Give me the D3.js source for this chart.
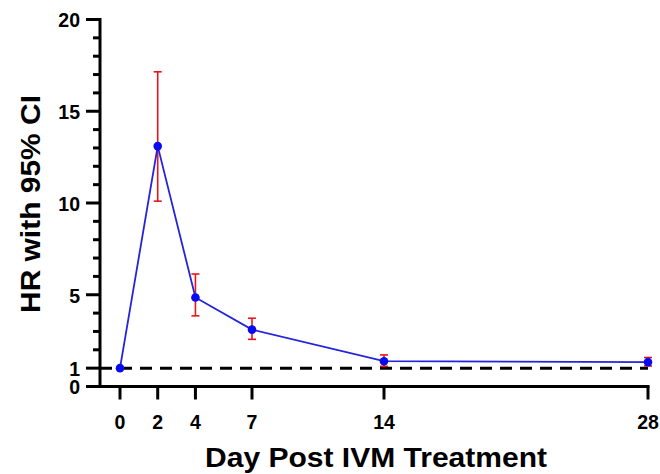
<!DOCTYPE html>
<html>
<head>
<meta charset="utf-8">
<script src="https://cdn.jsdelivr.net/npm/d3@7"></script>
<style>
  body { margin: 0; background: #fff; }
  text { font-family: "Liberation Sans", Arial, sans-serif; font-weight: bold; }
</style>
</head>
<body>
<div id="chart"></div>
<script>
// days post treatment and hazard ratios with 95% CI
let days = [0, 2, 4, 7, 14, 28];
let hr = [1.0, 13.1, 4.85, 3.1, 1.38, 1.33];
let ciLow = [1.0, 10.1, 3.85, 2.57, 1.1, 1.12];
let ciHigh = [1.0, 17.15, 6.13, 3.72, 1.72, 1.58];

let yTickLabels = [0, 1, 5, 10, 15, 20];
let yMinorTicks = d3.range(0, 21);
let refLine = 1;

let width = 660, height = 474;

let svg = d3.select("#chart").append("svg")
  .attr("width", width)
  .attr("height", height);

let x = d3.scaleLinear().domain([0, 28]).range([120, 648]);
let y = d3.scaleLinear().domain([0, 20]).range([386.5, 19.5]);

// y axis: minor ticks
svg.selectAll(".minor")
  .data(yMinorTicks.filter(t => yTickLabels.indexOf(t) < 0))
  .enter().append("line")
  .attr("x1", 93).attr("x2", 100)
  .attr("y1", d => y(d)).attr("y2", d => y(d))
  .attr("stroke", "#000").attr("stroke-width", 3);

// y axis: major ticks + labels
svg.selectAll(".major")
  .data(yTickLabels)
  .enter().append("line")
  .attr("x1", 86).attr("x2", 100)
  .attr("y1", d => y(d)).attr("y2", d => y(d))
  .attr("stroke", "#000").attr("stroke-width", 3);

svg.selectAll(".ylab")
  .data(yTickLabels)
  .enter().append("text")
  .attr("x", 80)
  .attr("y", d => y(d))
  .attr("dy", "0.4em")
  .attr("text-anchor", "end")
  .attr("font-size", 19.5)
  .text(d => d);

svg.append("line")
  .attr("x1", 100).attr("x2", 100)
  .attr("y1", y(20) - 1.5).attr("y2", y(0) + 1.5)
  .attr("stroke", "#000").attr("stroke-width", 3);

// x axis
svg.append("line")
  .attr("x1", 100).attr("x2", x(28) + 1.5)
  .attr("y1", y(0)).attr("y2", y(0))
  .attr("stroke", "#000").attr("stroke-width", 3);

svg.selectAll(".xtick")
  .data(days)
  .enter().append("line")
  .attr("x1", d => x(d)).attr("x2", d => x(d))
  .attr("y1", y(0)).attr("y2", y(0) + 13)
  .attr("stroke", "#000").attr("stroke-width", 3);

svg.selectAll(".xlab")
  .data(days)
  .enter().append("text")
  .attr("x", d => x(d))
  .attr("y", 428.5)
  .attr("text-anchor", "middle")
  .attr("font-size", 19.5)
  .text(d => d);

// reference line at HR = 1
svg.append("line")
  .attr("x1", 100).attr("x2", x(28))
  .attr("y1", y(refLine)).attr("y2", y(refLine))
  .attr("stroke", "#000").attr("stroke-width", 3)
  .attr("stroke-dasharray", "12,8");

// error bars
let pts = days.map((d, i) => ({day: d, hr: hr[i], lo: ciLow[i], hi: ciHigh[i]}));
let bars = pts.filter(p => p.hi > p.lo);

svg.selectAll(".ebar")
  .data(bars)
  .enter().append("line")
  .attr("x1", d => x(d.day)).attr("x2", d => x(d.day))
  .attr("y1", d => y(d.lo)).attr("y2", d => y(d.hi))
  .attr("stroke", "#e8141c").attr("stroke-width", 1.6);

["lo", "hi"].forEach(k => {
  svg.selectAll(".cap-" + k)
    .data(bars)
    .enter().append("line")
    .attr("x1", d => x(d.day) - 4).attr("x2", d => x(d.day) + 4)
    .attr("y1", d => y(d[k])).attr("y2", d => y(d[k]))
    .attr("stroke", "#e8141c").attr("stroke-width", 1.6);
});

// HR line and points
let line = d3.line()
  .x(d => x(d.day))
  .y(d => y(d.hr));

svg.append("path")
  .datum(pts)
  .attr("d", line)
  .attr("fill", "none")
  .attr("stroke", "#2424dc")
  .attr("stroke-width", 1.8);

svg.selectAll(".pt")
  .data(pts)
  .enter().append("circle")
  .attr("cx", d => x(d.day))
  .attr("cy", d => y(d.hr))
  .attr("r", 4.3)
  .attr("fill", "#0a0af0");

// axis titles
svg.append("text")
  .attr("x", 376)
  .attr("y", 467)
  .attr("text-anchor", "middle")
  .attr("font-size", 27)
  .attr("textLength", 342)
  .attr("lengthAdjust", "spacingAndGlyphs")
  .text("Day Post IVM Treatment");

svg.append("text")
  .attr("transform", "translate(40,204) rotate(-90)")
  .attr("text-anchor", "middle")
  .attr("font-size", 27)
  .attr("textLength", 218)
  .attr("lengthAdjust", "spacingAndGlyphs")
  .text("HR with 95% CI");
</script>
</body>
</html>
